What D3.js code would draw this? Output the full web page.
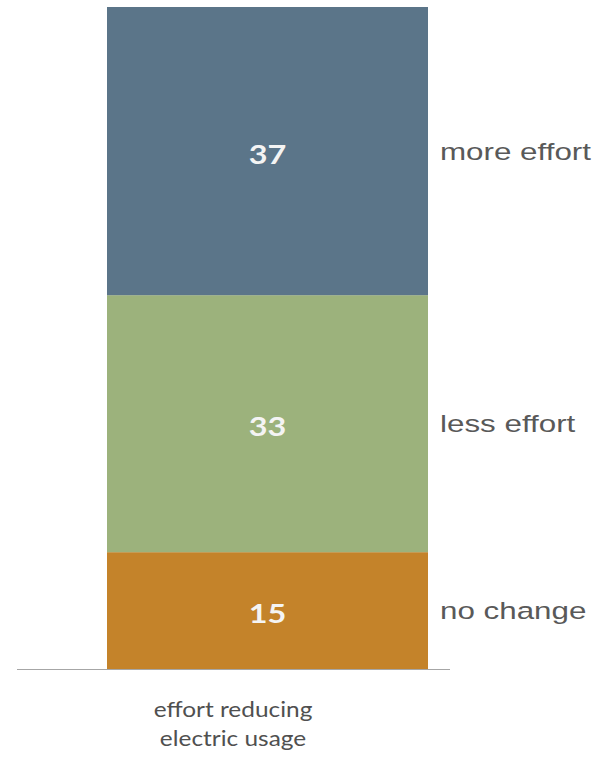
<!DOCTYPE html>
<html>
<head>
<meta charset="utf-8">
<script src="https://cdn.jsdelivr.net/npm/d3@7"></script>
<style>
  body { margin: 0; background: #fff; }
  svg { display: block; }
</style>
</head>
<body>
<div id="chart"></div>
<script>
// data
const categories = ["effort reducing electric usage"];
const seriesNames = ["no change", "less effort", "more effort"];
const seriesValues = [15, 33, 37];
const seriesColors = ["#C4832A", "#9CB27C", "#5B7589"];
const axisLabelLines = ["effort reducing", "electric usage"];

const width = 599, height = 758;

const svg = d3.select("#chart").append("svg")
  .attr("width", width)
  .attr("height", height);

// scales
const x = d3.scaleBand()
  .domain(categories)
  .range([107, 428])
  .padding(0);

const y = d3.scaleLinear()
  .domain([0, d3.sum(seriesValues)])
  .range([669, 7]);

// stack the series
let acc = 0;
const segments = seriesValues.map((v, i) => {
  const s = {name: seriesNames[i], value: v, y0: acc, y1: acc + v, color: seriesColors[i]};
  acc += v;
  return s;
});

svg.selectAll("rect.seg")
  .data(segments)
  .join("rect")
  .attr("class", "seg")
  .attr("x", x(categories[0]))
  .attr("width", x.bandwidth())
  .attr("y", d => y(d.y1))
  .attr("height", d => y(d.y0) - y(d.y1))
  .attr("fill", d => d.color);

// value labels inside segments
const cx = x(categories[0]) + x.bandwidth() / 2;
svg.selectAll("text.val")
  .data(segments)
  .join("text")
  .attr("class", "val")
  .attr("transform", d => `translate(${cx},${(y(d.y0) + y(d.y1)) / 2 + 3}) scale(1.2,1)`)
  .attr("text-anchor", "middle")
  .attr("dy", "0.36em")
  .style("font-family", "Lato, 'Open Sans', sans-serif")
  .style("font-weight", "bold")
  .style("font-size", "27px")
  .style("fill", "#F4F4F4")
  .text(d => d.value);

// series names to the right
svg.selectAll("text.name")
  .data(segments)
  .join("text")
  .attr("class", "name")
  .attr("transform", d => `translate(440,${(y(d.y0) + y(d.y1)) / 2}) scale(1.28,1)`)
  .attr("dy", "0.36em")
  .style("font-family", "'Liberation Sans', Arial, sans-serif")
  .style("font-size", "24.5px")
  .style("fill", "#595959")
  .text(d => d.name);

// baseline
svg.append("line")
  .attr("x1", 17).attr("x2", 450)
  .attr("y1", y(0) + 0.5).attr("y2", y(0) + 0.5)
  .attr("stroke", "#A6A6A6")
  .attr("stroke-width", 1.2);

// category label
svg.append("g")
  .selectAll("text")
  .data(axisLabelLines)
  .join("text")
  .attr("transform", (d, i) => `translate(233,${716.5 + i * 29}) scale(1.11,1)`)
  .attr("text-anchor", "middle")
  .style("font-family", "Lato, sans-serif")
  .style("font-size", "22px")
  .style("fill", "#505050")
  .text(d => d);
</script>
</body>
</html>
